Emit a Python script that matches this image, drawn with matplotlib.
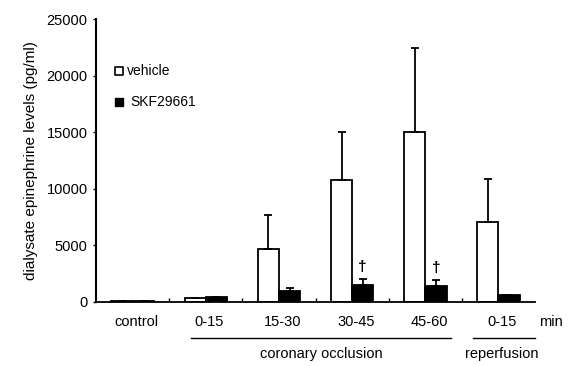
import matplotlib
matplotlib.use('Agg')
import matplotlib.pyplot as plt
import numpy as np

plt.rcParams['font.family'] = ['Liberation Sans', 'DejaVu Sans']

# data
groups = ['control', '0-15', '15-30', '30-45', '45-60', '0-15']
vehicle = [60, 350, 4700, 10800, 15000, 7100]
vehicle_err = [0, 0, 3000, 4200, 7400, 3800]
skf = [60, 400, 1000, 1500, 1400, 620]
skf_err = [0, 0, 250, 500, 500, 0]
dagger_groups = [3, 4]

fig = plt.figure(figsize=(5.68, 3.66), dpi=100)
ax = fig.add_axes([0.169, 0.175, 0.773, 0.773])

x = np.arange(len(groups))
w = 0.29
ax.bar(x - w / 2, vehicle, w, color='white', edgecolor='black', linewidth=1.3,
       yerr=[np.zeros(len(groups)), vehicle_err],
       error_kw=dict(ecolor='black', elinewidth=1.3, capsize=3, capthick=1.3))
ax.bar(x + w / 2, skf, w, color='black', edgecolor='black', linewidth=1.3,
       yerr=[np.zeros(len(groups)), skf_err],
       error_kw=dict(ecolor='black', elinewidth=1.3, capsize=3, capthick=1.3))

for g in dagger_groups:
    ax.text(x[g] + w / 2, skf[g] + skf_err[g] + 500, '\u2020', ha='center', va='bottom',
            fontsize=11, fontweight='bold')

ax.set_xlim(-0.5, 5.5)
ax.set_ylim(0, 25000)
ax.set_yticks(np.arange(0, 25001, 5000))
ax.set_yticklabels([str(v) for v in range(0, 25001, 5000)], fontsize=10.5)
ax.set_xticks(x[:-1] + 0.5)
ax.set_xticklabels([])
ax.tick_params(axis='x', direction='in', length=3, width=1)
ax.tick_params(axis='y', direction='out', length=2, width=1, pad=4)
for s in ['top', 'right']:
    ax.spines[s].set_visible(False)
ax.spines['left'].set_linewidth(1.5)
ax.spines['bottom'].set_linewidth(1.3)

ax.set_ylabel('dialysate epinephrine levels (pg/ml)', fontsize=11, labelpad=6)

# category labels under axis
for xi, lab in zip(x, groups):
    ax.text(xi + 0.05, -1800, lab, ha='center', va='center', fontsize=10.5)
ax.text(5.55, -1800, 'min', ha='left', va='center', fontsize=10.5, clip_on=False)

# bracket lines
ax.plot([0.8, 4.35], [-3200, -3200], color='black', lw=1, clip_on=False)
ax.text(2.58, -4600, 'coronary occlusion', ha='center', va='center', fontsize=10.5)
ax.plot([4.65, 5.5], [-3200, -3200], color='black', lw=1, clip_on=False)
ax.text(5.05, -4600, 'reperfusion', ha='center', va='center', fontsize=10.5)

# legend
ax.scatter([-0.18], [20400], marker='s', s=28, facecolor='white', edgecolor='black', linewidth=1.2)
ax.text(-0.08, 20400, 'vehicle', ha='left', va='center', fontsize=10)
ax.scatter([-0.18], [17700], marker='s', s=28, facecolor='black', edgecolor='black')
ax.text(-0.03, 17700, 'SKF29661', ha='left', va='center', fontsize=10)

fig.savefig('out.png', dpi=100, facecolor='white')
